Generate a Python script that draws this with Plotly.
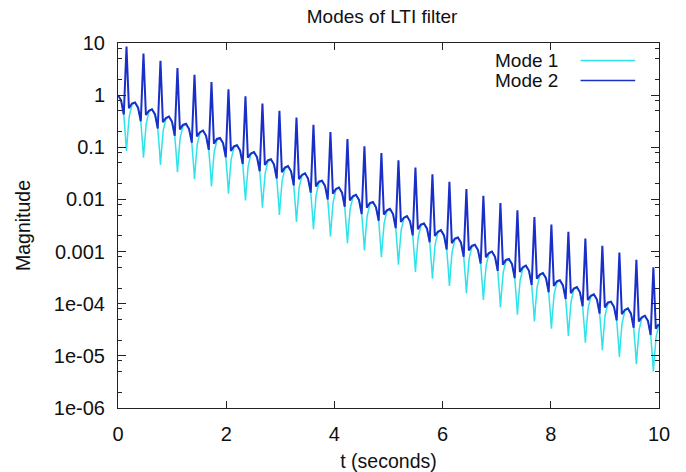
import plotly.graph_objects as go

# ---- data (time in seconds, magnitude as log10) ----
mode1_t = [
    0.000, 0.057, 0.107, 0.137, 0.157, 0.177, 0.207, 0.257,
    0.314, 0.371, 0.421, 0.451, 0.471, 0.491, 0.521, 0.571,
    0.628, 0.685, 0.735, 0.765, 0.785, 0.805, 0.835, 0.885,
    0.942, 0.999, 1.049, 1.079, 1.099, 1.119, 1.149, 1.199,
    1.257, 1.314, 1.364, 1.394, 1.414, 1.434, 1.464, 1.514,
    1.571, 1.628, 1.678, 1.708, 1.728, 1.748, 1.778, 1.828,
    1.885, 1.942, 1.992, 2.022, 2.042, 2.062, 2.092, 2.142,
    2.199, 2.256, 2.306, 2.336, 2.356, 2.376, 2.406, 2.456,
    2.513, 2.570, 2.620, 2.650, 2.670, 2.690, 2.720, 2.770,
    2.827, 2.884, 2.934, 2.964, 2.984, 3.004, 3.034, 3.084,
    3.142, 3.199, 3.249, 3.279, 3.299, 3.319, 3.349, 3.399,
    3.456, 3.513, 3.563, 3.593, 3.613, 3.633, 3.663, 3.713,
    3.770, 3.827, 3.877, 3.907, 3.927, 3.947, 3.977, 4.027,
    4.084, 4.141, 4.191, 4.221, 4.241, 4.261, 4.291, 4.341,
    4.398, 4.455, 4.505, 4.535, 4.555, 4.575, 4.605, 4.655,
    4.712, 4.769, 4.819, 4.849, 4.869, 4.889, 4.919, 4.969,
    5.027, 5.084, 5.134, 5.164, 5.184, 5.204, 5.234, 5.284,
    5.341, 5.398, 5.448, 5.478, 5.498, 5.518, 5.548, 5.598,
    5.655, 5.712, 5.762, 5.792, 5.812, 5.832, 5.862, 5.912,
    5.969, 6.026, 6.076, 6.106, 6.126, 6.146, 6.176, 6.226,
    6.283, 6.340, 6.390, 6.420, 6.440, 6.460, 6.490, 6.540,
    6.597, 6.654, 6.704, 6.734, 6.754, 6.774, 6.804, 6.854,
    6.912, 6.969, 7.019, 7.049, 7.069, 7.089, 7.119, 7.169,
    7.226, 7.283, 7.333, 7.363, 7.383, 7.403, 7.433, 7.483,
    7.540, 7.597, 7.647, 7.677, 7.697, 7.717, 7.747, 7.797,
    7.854, 7.911, 7.961, 7.991, 8.011, 8.031, 8.061, 8.111,
    8.168, 8.225, 8.275, 8.305, 8.325, 8.345, 8.375, 8.425,
    8.482, 8.539, 8.589, 8.619, 8.639, 8.659, 8.689, 8.739,
    8.796, 8.853, 8.903, 8.933, 8.953, 8.973, 9.003, 9.053,
    9.111, 9.168, 9.218, 9.248, 9.268, 9.288, 9.318, 9.368,
    9.425, 9.482, 9.532, 9.562, 9.582, 9.602, 9.632, 9.682,
    9.739, 9.796, 9.846, 9.876, 9.896, 9.916, 9.946, 9.996,
]
mode1_log10 = [
    0.00, -0.10, -0.37, -0.76, -1.07, -0.78, -0.41, -0.19,
    -0.14, -0.24, -0.50, -0.90, -1.20, -0.92, -0.55, -0.32,
    -0.27, -0.37, -0.64, -1.03, -1.34, -1.05, -0.68, -0.46,
    -0.41, -0.51, -0.78, -1.17, -1.48, -1.19, -0.82, -0.60,
    -0.55, -0.65, -0.91, -1.31, -1.61, -1.32, -0.95, -0.73,
    -0.68, -0.78, -1.05, -1.44, -1.75, -1.46, -1.09, -0.87,
    -0.82, -0.92, -1.18, -1.58, -1.89, -1.60, -1.23, -1.01,
    -0.96, -1.06, -1.32, -1.72, -2.02, -1.73, -1.36, -1.14,
    -1.09, -1.19, -1.46, -1.85, -2.16, -1.87, -1.50, -1.28,
    -1.23, -1.33, -1.59, -1.99, -2.30, -2.01, -1.64, -1.42,
    -1.36, -1.46, -1.73, -2.13, -2.43, -2.14, -1.77, -1.55,
    -1.50, -1.60, -1.87, -2.26, -2.57, -2.28, -1.91, -1.69,
    -1.64, -1.74, -2.00, -2.40, -2.71, -2.42, -2.05, -1.82,
    -1.77, -1.87, -2.14, -2.54, -2.84, -2.55, -2.18, -1.96,
    -1.91, -2.01, -2.28, -2.67, -2.98, -2.69, -2.32, -2.10,
    -2.05, -2.15, -2.41, -2.81, -3.11, -2.83, -2.46, -2.23,
    -2.18, -2.28, -2.55, -2.95, -3.25, -2.96, -2.59, -2.37,
    -2.32, -2.42, -2.69, -3.08, -3.39, -3.10, -2.73, -2.51,
    -2.46, -2.56, -2.82, -3.22, -3.52, -3.23, -2.86, -2.64,
    -2.59, -2.69, -2.96, -3.35, -3.66, -3.37, -3.00, -2.78,
    -2.73, -2.83, -3.09, -3.49, -3.80, -3.51, -3.14, -2.92,
    -2.87, -2.97, -3.23, -3.63, -3.93, -3.64, -3.27, -3.05,
    -3.00, -3.10, -3.37, -3.76, -4.07, -3.78, -3.41, -3.19,
    -3.14, -3.24, -3.50, -3.90, -4.21, -3.92, -3.55, -3.33,
    -3.27, -3.37, -3.64, -4.04, -4.34, -4.05, -3.68, -3.46,
    -3.41, -3.51, -3.78, -4.17, -4.48, -4.19, -3.82, -3.60,
    -3.55, -3.65, -3.91, -4.31, -4.62, -4.33, -3.96, -3.73,
    -3.68, -3.78, -4.05, -4.45, -4.75, -4.46, -4.09, -3.87,
    -3.82, -3.92, -4.19, -4.58, -4.89, -4.60, -4.23, -4.01,
    -3.96, -4.06, -4.32, -4.72, -5.02, -4.74, -4.37, -4.14,
    -4.09, -4.19, -4.46, -4.86, -5.16, -4.87, -4.50, -4.28,
    -4.23, -4.33, -4.60, -4.99, -5.30, -5.01, -4.64, -4.42,
]

mode2_t = [
    0.000, 0.057, 0.107, 0.157, 0.202, 0.257,
    0.314, 0.371, 0.421, 0.471, 0.516, 0.571,
    0.628, 0.685, 0.735, 0.785, 0.830, 0.885,
    0.942, 0.999, 1.049, 1.099, 1.144, 1.199,
    1.257, 1.314, 1.364, 1.414, 1.459, 1.514,
    1.571, 1.628, 1.678, 1.728, 1.773, 1.828,
    1.885, 1.942, 1.992, 2.042, 2.087, 2.142,
    2.199, 2.256, 2.306, 2.356, 2.401, 2.456,
    2.513, 2.570, 2.620, 2.670, 2.715, 2.770,
    2.827, 2.884, 2.934, 2.984, 3.029, 3.084,
    3.142, 3.199, 3.249, 3.299, 3.344, 3.399,
    3.456, 3.513, 3.563, 3.613, 3.658, 3.713,
    3.770, 3.827, 3.877, 3.927, 3.972, 4.027,
    4.084, 4.141, 4.191, 4.241, 4.286, 4.341,
    4.398, 4.455, 4.505, 4.555, 4.600, 4.655,
    4.712, 4.769, 4.819, 4.869, 4.914, 4.969,
    5.027, 5.084, 5.134, 5.184, 5.229, 5.284,
    5.341, 5.398, 5.448, 5.498, 5.543, 5.598,
    5.655, 5.712, 5.762, 5.812, 5.857, 5.912,
    5.969, 6.026, 6.076, 6.126, 6.171, 6.226,
    6.283, 6.340, 6.390, 6.440, 6.485, 6.540,
    6.597, 6.654, 6.704, 6.754, 6.799, 6.854,
    6.912, 6.969, 7.019, 7.069, 7.114, 7.169,
    7.226, 7.283, 7.333, 7.383, 7.428, 7.483,
    7.540, 7.597, 7.647, 7.697, 7.742, 7.797,
    7.854, 7.911, 7.961, 8.011, 8.056, 8.111,
    8.168, 8.225, 8.275, 8.325, 8.370, 8.425,
    8.482, 8.539, 8.589, 8.639, 8.684, 8.739,
    8.796, 8.853, 8.903, 8.953, 8.999, 9.053,
    9.111, 9.168, 9.218, 9.268, 9.313, 9.368,
    9.425, 9.482, 9.532, 9.582, 9.627, 9.682,
    9.739, 9.796, 9.846, 9.896, 9.941, 9.996,
]
mode2_log10 = [
    0.00, -0.10, -0.37, 0.93, -0.25, -0.16,
    -0.14, -0.24, -0.50, 0.80, -0.38, -0.30,
    -0.27, -0.37, -0.64, 0.66, -0.52, -0.44,
    -0.41, -0.51, -0.78, 0.52, -0.66, -0.57,
    -0.55, -0.65, -0.91, 0.39, -0.79, -0.71,
    -0.68, -0.78, -1.05, 0.25, -0.93, -0.84,
    -0.82, -0.92, -1.19, 0.11, -1.07, -0.98,
    -0.96, -1.06, -1.32, -0.02, -1.20, -1.12,
    -1.09, -1.19, -1.46, -0.16, -1.34, -1.25,
    -1.23, -1.33, -1.60, -0.30, -1.48, -1.39,
    -1.36, -1.46, -1.73, -0.43, -1.61, -1.53,
    -1.50, -1.60, -1.87, -0.57, -1.75, -1.66,
    -1.64, -1.74, -2.00, -0.71, -1.89, -1.80,
    -1.77, -1.87, -2.14, -0.84, -2.02, -1.94,
    -1.91, -2.01, -2.28, -0.98, -2.16, -2.07,
    -2.05, -2.15, -2.41, -1.11, -2.29, -2.21,
    -2.18, -2.28, -2.55, -1.25, -2.43, -2.35,
    -2.32, -2.42, -2.69, -1.39, -2.57, -2.48,
    -2.46, -2.56, -2.82, -1.52, -2.70, -2.62,
    -2.59, -2.69, -2.96, -1.66, -2.84, -2.75,
    -2.73, -2.83, -3.10, -1.80, -2.98, -2.89,
    -2.87, -2.97, -3.23, -1.93, -3.11, -3.03,
    -3.00, -3.10, -3.37, -2.07, -3.25, -3.16,
    -3.14, -3.24, -3.51, -2.21, -3.39, -3.30,
    -3.27, -3.37, -3.64, -2.34, -3.52, -3.44,
    -3.41, -3.51, -3.78, -2.48, -3.66, -3.57,
    -3.55, -3.65, -3.91, -2.62, -3.80, -3.71,
    -3.68, -3.78, -4.05, -2.75, -3.93, -3.85,
    -3.82, -3.92, -4.19, -2.89, -4.07, -3.98,
    -3.96, -4.06, -4.32, -3.02, -4.20, -4.12,
    -4.09, -4.19, -4.46, -3.16, -4.34, -4.26,
    -4.23, -4.33, -4.60, -3.30, -4.48, -4.39,
]

x_tickvals = [0, 2, 4, 6, 8, 10]
y_tickvals = [10, 1, 0.1, 0.01, 0.001, 1e-4, 1e-5, 1e-6]
y_ticktext = ["10", "1", "0.1", "0.01", "0.001", "1e-04", "1e-05", "1e-06"]
minor_digits = [2, 5, 8]
series_names = ["Mode 1", "Mode 2"]

mode1_mag = [10 ** v for v in mode1_log10]
mode2_mag = [10 ** v for v in mode2_log10]
y_minor = [d * v for v in y_tickvals[1:] for d in minor_digits]

FONT = "Liberation Sans, Arial, Helvetica, sans-serif"
CYAN = "#2fe3ea"
BLUE = "#1a2fc8"

fig = go.Figure()
fig.add_trace(go.Scatter(x=mode1_t, y=mode1_mag, mode="lines", name=series_names[0],
                         line=dict(color=CYAN, width=1.5)))
fig.add_trace(go.Scatter(x=mode2_t, y=mode2_mag, mode="lines", name=series_names[1],
                         line=dict(color=BLUE, width=2)))

axis_common = dict(showline=True, linecolor="#222", linewidth=1, mirror="ticks",
                   ticks="inside", tickcolor="#222", showgrid=False, zeroline=False,
                   automargin=False,
                   tickfont=dict(family=FONT, size=20, color="#111"))

fig.update_xaxes(range=[0, 10], tickmode="array", tickvals=x_tickvals, ticklen=7,
                 ticklabelstandoff=8,
                 title=dict(text="t (seconds)", font=dict(family=FONT, size=19.5, color="#111"),
                            standoff=15),
                 **axis_common)
fig.update_yaxes(type="log", range=[-6, 1], tickmode="array", tickvals=y_tickvals,
                 ticktext=y_ticktext, ticklen=8, ticklabelstandoff=8,
                 minor=dict(tickmode="array", tickvals=y_minor, ticklen=4,
                            ticks="inside", tickcolor="#222"),
                 title=dict(text="Magnitude", font=dict(family=FONT, size=19.5, color="#111"),
                            standoff=18),
                 **axis_common)

# gnuplot-style key: text on the left, line sample on the right
key_rows = [(0.952, CYAN, 1.5), (0.897, BLUE, 1.5)]
for name, (ky, col, w) in zip(series_names, key_rows):
    fig.add_annotation(x=0.817, y=ky, xref="paper", yref="paper", text=name,
                       showarrow=False, xanchor="right", yanchor="middle",
                       font=dict(family=FONT, size=19, color="#111"))
    fig.add_shape(type="line", xref="paper", yref="paper", x0=0.855, x1=0.956,
                  y0=ky, y1=ky, line=dict(color=col, width=w))

fig.update_layout(
    width=686, height=472,
    margin=dict(l=118, r=27, t=43, b=64, autoexpand=False),
    paper_bgcolor="white", plot_bgcolor="white",
    showlegend=False,
    title=dict(text="Modes of LTI filter", x=0.557, xanchor="center", y=0.965,
               yanchor="middle", xref="container", yref="container",
               font=dict(family=FONT, size=19, color="#111")),
)

fig.write_html("out.html", config={"displayModeBar": False},
               post_script="document.body.style.margin='0';document.body.style.padding='0';")
